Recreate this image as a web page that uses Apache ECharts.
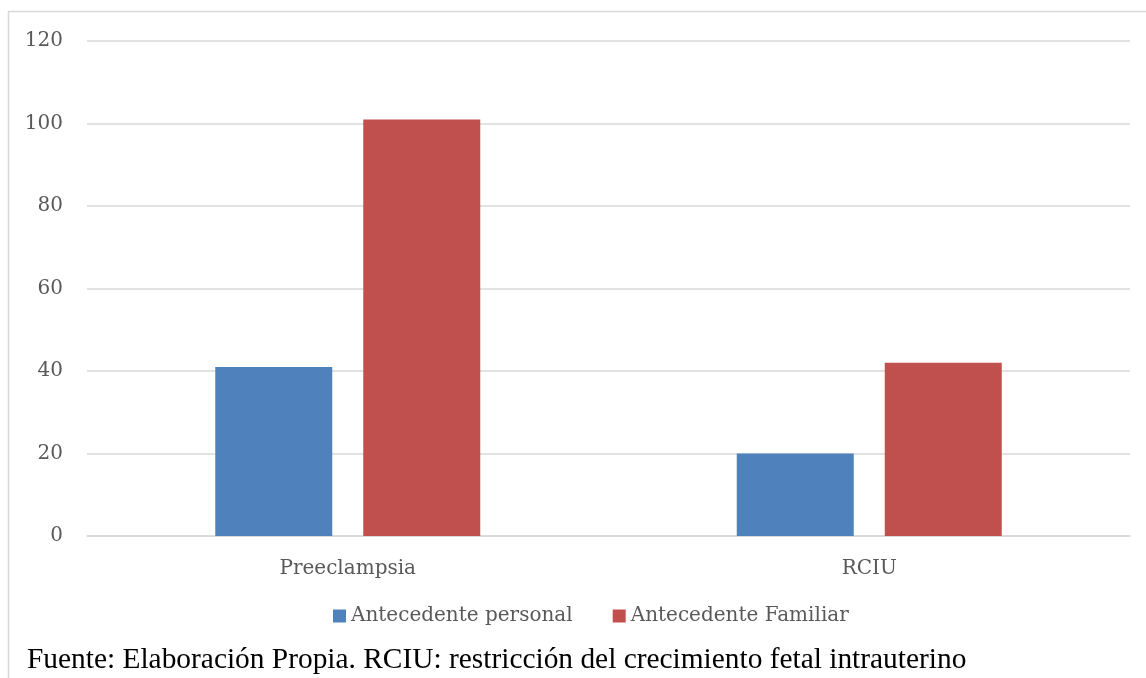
<!DOCTYPE html>
<html>
<head>
<meta charset="utf-8">
<script src="https://cdn.jsdelivr.net/npm/echarts@6/dist/echarts.min.js"></script>
<style>
  html, body { margin: 0; padding: 0; background: #fff; }
  #chart { width: 1146px; height: 678px; }
</style>
</head>
<body>
<div id="chart"></div>
<script>
// Categories and series values
const categories = ['Preeclampsia', 'RCIU'];
const personal = [41, 20];
const familiar = [101, 42];
const seriesNames = ['Antecedente personal', 'Antecedente Familiar'];
const yTicks = { min: 0, max: 120, step: 20 };
const caption = 'Fuente: Elaboración Propia. RCIU: restricción del crecimiento fetal intrauterino';

const labelFont = 'DejaVu Serif';
const chart = echarts.init(document.getElementById('chart'), null, { renderer: 'canvas' });

chart.setOption({
  animation: false,
  backgroundColor: '#ffffff',
  grid: { left: 87, right: 16, top: 41, bottom: 142, containLabel: false },
  legend: {
    data: seriesNames,
    left: 328,
    top: 601,
    icon: 'rect',
    itemWidth: 13,
    itemHeight: 13,
    itemGap: 40,
    textStyle: { fontFamily: labelFont, fontSize: 20, color: '#595959' }
  },
  xAxis: {
    type: 'category',
    data: categories,
    axisLine: { lineStyle: { color: '#d9d9d9', width: 1.5 } },
    axisTick: { show: false },
    axisLabel: { fontFamily: labelFont, fontSize: 20, color: '#595959', margin: 23 }
  },
  yAxis: {
    type: 'value',
    min: yTicks.min,
    max: yTicks.max,
    interval: yTicks.step,
    axisLine: { show: false },
    axisTick: { show: false },
    splitLine: { lineStyle: { color: '#d9d9d9', width: 1.5 } },
    axisLabel: { fontFamily: labelFont, fontSize: 20, color: '#595959', margin: 24 }
  },
  series: [
    {
      name: seriesNames[0],
      type: 'bar',
      data: personal,
      barWidth: 117,
      barGap: '26.5%',
      itemStyle: { color: '#4f81bd' }
    },
    {
      name: seriesNames[1],
      type: 'bar',
      data: familiar,
      barWidth: 117,
      barGap: '26.5%',
      itemStyle: { color: '#c0504d' }
    }
  ],
  graphic: [
    {
      type: 'rect',
      silent: true,
      z: -1,
      shape: { x: 8.5, y: 11.5, width: 1200, height: 700 },
      style: { fill: 'none', stroke: '#d9d9d9', lineWidth: 1.5 }
    },
    {
      type: 'text',
      left: 27,
      top: 646,
      style: {
        text: caption,
        fontFamily: 'Liberation Serif',
        fontSize: 29.4,
        fill: '#000000'
      }
    }
  ]
});
</script>
</body>
</html>
